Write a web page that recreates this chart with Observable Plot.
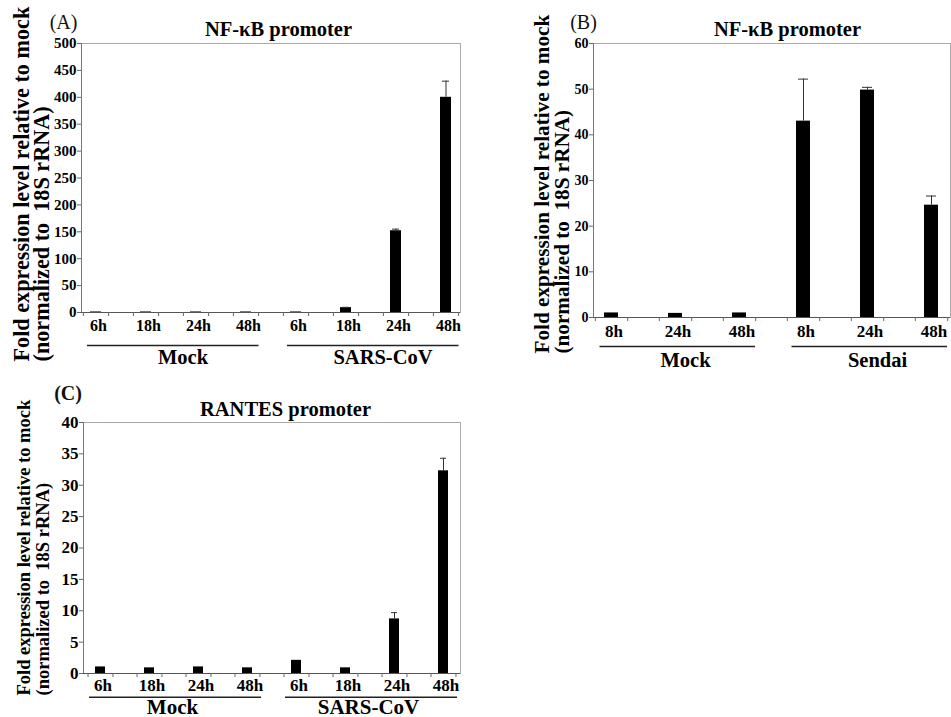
<!DOCTYPE html>
<html><head><meta charset="utf-8">
<script src="https://cdn.jsdelivr.net/npm/d3@7"></script>
<script src="https://cdn.jsdelivr.net/npm/@observablehq/plot@0.6"></script>
<style>
body{margin:0;background:#fff}
#wrap{position:relative;width:951px;height:717px;overflow:hidden;background:#fff}
#wrap svg{position:absolute}
#wrap svg text{font-family:"Liberation Serif","Times New Roman",serif}
#wrap svg text.tag{font-family:"Liberation Sans",Arial,sans-serif}
</style></head><body><div id="wrap"></div>
<script>
// ---------- Data ----------
const timesA = ["6h","18h","24h","48h"];
const groupsA = ["Mock","SARS-CoV"];
const valuesA = [1, 1, 1, 1, 1, 9, 152, 400];
const errorsA = [0, 0, 0, 0, 0, 0.6, 3, 30];
const yTicksA = [0, 50, 100, 150, 200, 250, 300, 350, 400, 450, 500];

const timesB = ["8h","24h","48h"];
const groupsB = ["Mock","Sendai"];
const valuesB = [1, 0.9, 1, 43, 49.8, 24.6];
const errorsB = [0, 0, 0, 9.2, 0.6, 2];
const yTicksB = [0, 10, 20, 30, 40, 50, 60];

const timesC = ["6h","18h","24h","48h"];
const groupsC = ["Mock","SARS-CoV"];
const valuesC = [1.05, 0.9, 1.05, 0.9, 2.1, 0.9, 8.7, 32.3];
const errorsC = [0, 0, 0, 0, 0, 0, 1, 2];
const yTicksC = [0, 5, 10, 15, 20, 25, 30, 35, 40];

const yLabel = "Fold expression level relative to mock\n(normalized to  18S rRNA)";

const SERIF = '"Liberation Serif", "Times New Roman", serif';
const SANS = '"Liberation Sans", Arial, sans-serif';

function panel(o) {
  const rows = [];
  o.groups.forEach((g, gi) => o.times.forEach((t, ti) => {
    const i = gi * o.times.length + ti;
    rows.push({key: g + "|" + t, group: g, time: t, value: o.values[i], err: o.errors[i]});
  }));
  const n = rows.length;
  const L = o.layout;
  const W = L.width - L.ml - L.mr;
  const step = W / (n - L.pi + 2 * L.po);
  const midIdx = Math.floor((o.times.length - 1) / 2);
  const groupRows = o.groups.map(g => {
    const r = rows.filter(d => d.group === g);
    return {group: g, first: r[0].key, last: r[r.length - 1].key, mid: r[midIdx].key};
  });
  const errRows = rows.filter(d => d.err > 0);

  const svg = Plot.plot({
    width: L.width, height: L.height,
    marginLeft: L.ml, marginRight: L.mr, marginTop: L.mt, marginBottom: L.mb,
    x: {type: "band", domain: rows.map(d => d.key), paddingInner: L.pi, paddingOuter: L.po, axis: null},
    y: {domain: [0, o.yMax], axis: null},
    style: {fontFamily: SERIF, background: "transparent", overflow: "visible", color: "#000"},
    marks: [
      Plot.frame({stroke: "#aaaaaa"}),
      Plot.frame({anchor: "left", stroke: "#777"}),
      Plot.barY(rows, {x: "key", y: "value", fill: "#000"}),
      Plot.ruleX(errRows, {x: "key", y1: "value", y2: d => d.value + d.err, stroke: "#333"}),
      Plot.tickY(errRows, {x: "key", y: d => d.value + d.err, stroke: "#333", insetLeft: 2, insetRight: 2}),
      Plot.ruleY([0], {stroke: "#555"}),
      Plot.axisY({ticks: o.yTicks, tickSize: 4, tickPadding: 1, stroke: "#666", fill: "#000",
        fontSize: L.yFont, fontWeight: "bold", fontFamily: SERIF, label: null}),
      Plot.axisX({tickSize: 0, tickPadding: L.xPad, tickFormat: k => k.split("|")[1], dx: 2.5,
        fontSize: L.xFont, fontWeight: "bold", fontFamily: SERIF, label: null, fill: "#000"}),
      Plot.axisX({tickSize: 4, tickFormat: () => "", dx: -step / 4, label: null, stroke: "#666"}),
      Plot.axisX({tickSize: 4, tickFormat: () => "", dx: step / 4, label: null, stroke: "#666"}),
      Plot.ruleY(groupRows, {y: () => 0, x1: "first", x2: "last", dy: L.gLineDy,
        insetLeft: L.gInL, insetRight: L.gInR, stroke: "#222", strokeWidth: 1.4}),
      Plot.text(groupRows, {x: "mid", y: () => 0, text: "group", dx: L.gLabDx, dy: L.gLabDy,
        lineAnchor: "bottom", fontSize: L.gFont, fontWeight: "bold", fontFamily: SERIF, fill: "#000"}),
      Plot.text([o.title], {text: d => d, frameAnchor: "top", dx: L.tDx, dy: L.tDy, lineAnchor: "bottom",
        fontSize: 20.5, fontWeight: "bold", fontFamily: SERIF, fill: "#000"}),
      Plot.text([o.tag], {text: d => d, frameAnchor: "top-left", dx: L.tagDx, dy: L.tagDy,
        lineAnchor: "middle", textAnchor: "middle", fontFamily: SANS, fontSize: 20, className: "tag",
        fontWeight: o.tagBold ? "bold" : "normal", fill: "#111"}),
      Plot.text([yLabel], {text: d => d, frameAnchor: "bottom-left", rotate: -90, textAnchor: "start",
        lineAnchor: "middle", dx: L.ylDx, dy: L.ylDy, lineHeight: L.ylLH, fontFamily: SERIF,
        fontSize: L.ylFont, fontWeight: "bold", fill: "#000"})
    ]
  });
  svg.style.left = L.left + "px";
  svg.style.top = L.top + "px";
  document.getElementById("wrap").appendChild(svg);
}

panel({
  times: timesA, groups: groupsA, values: valuesA, errors: errorsA, yTicks: yTicksA, yMax: 500,
  title: "NF-\u03BAB promoter", tag: "(A)", tagBold: false,
  layout: {left: 0, top: 0, width: 480, height: 370, ml: 81, mr: 20, mt: 43, mb: 58, pi: 0.782, po: 0.151,
    yFont: 15, xFont: 16, xPad: 7.6, gFont: 20.5, gLineDy: 33, gLabDy: 51, gLabDx: 37, gInL: -3, gInR: -7.5,
    tDx: 7.5, tDy: -8, tagDx: -18, tagDy: -21, ylFont: 22.2, ylLH: 0.9, ylDx: -49, ylDy: 49}
});
panel({
  times: timesB, groups: groupsB, values: valuesB, errors: errorsB, yTicks: yTicksB, yMax: 60,
  title: "NF-\u03BAB promoter", tag: "(B)", tagBold: false,
  layout: {left: 480, top: 0, width: 471, height: 370, ml: 113, mr: 1, mt: 43, mb: 53, pi: 0.779, po: 0.144,
    yFont: 14, xFont: 17, xPad: 7, gFont: 20.5, gLineDy: 29, gLabDy: 49, gLabDx: 10, gInL: -4.5, gInR: -9,
    tDx: 15.5, tDy: -8, tagDx: -10, tagDy: -21, ylFont: 21.2, ylLH: 0.94, ylDx: -41, ylDy: 36}
});
panel({
  times: timesC, groups: groupsC, values: valuesC, errors: errorsC, yTicks: yTicksC, yMax: 40,
  title: "RANTES promoter", tag: "(C)", tagBold: true,
  layout: {left: 0, top: 370, width: 480, height: 347, ml: 83, mr: 20, mt: 52, mb: 44, pi: 0.8, po: 0.18,
    yFont: 17, xFont: 17, xPad: 5.7, gFont: 21, gLineDy: 23.7, gLabDy: 40, gLabDx: 23, gInL: -6, gInR: -9,
    tDx: 13.5, tDy: -6.5, tagDx: -15.5, tagDy: -29, ylFont: 18.5, ylLH: 1.03, ylDx: -50.5, ylDy: 22}
});
</script>
</body></html>
